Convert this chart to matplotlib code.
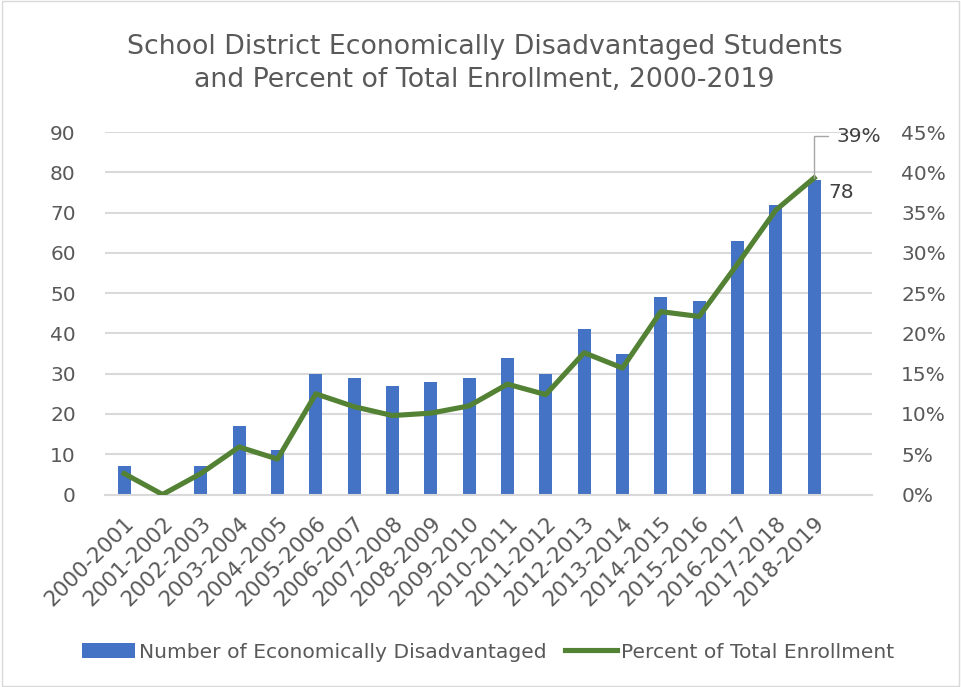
import matplotlib
matplotlib.use("Agg")
import matplotlib.pyplot as plt
from matplotlib.patches import Rectangle
from matplotlib.ticker import FuncFormatter

years = ["2000-2001", "2001-2002", "2002-2003", "2003-2004", "2004-2005",
         "2005-2006", "2006-2007", "2007-2008", "2008-2009", "2009-2010",
         "2010-2011", "2011-2012", "2012-2013", "2013-2014", "2014-2015",
         "2015-2016", "2016-2017", "2017-2018", "2018-2019"]
counts = [7, 0, 7, 17, 11, 30, 29, 27, 28, 29, 34, 30, 41, 35, 49, 48, 63, 72, 78]
percent = [2.6, 0.0, 2.6, 5.9, 4.4, 12.5, 10.9, 9.8, 10.1, 11.0, 13.7, 12.4,
           17.6, 15.7, 22.7, 22.1, 28.6, 35.3, 39.3]

plt.rcParams['font.family'] = ['DejaVu Sans']
txt = '#595959'
blue = '#4472C4'
green = '#548235'

fig = plt.figure(figsize=(9.61, 6.87), dpi=100)
ax = fig.add_axes([105/961, 1-494.5/687, (872-105)/961, (494.5-132)/687])
ax2 = ax.twinx()

x = list(range(len(years)))
ax.bar(x, counts, width=0.34, color=blue, zorder=2, label='Number of Economically Disadvantaged')
ln, = ax2.plot(x, percent, color=green, linewidth=3.7, zorder=3, label='Percent of Total Enrollment')

ax.set_ylim(0, 90)
ax.set_yticks(range(0, 91, 10))
ax2.set_ylim(0, 45)
ax2.set_yticks(range(0, 46, 5))
ax2.yaxis.set_major_formatter(FuncFormatter(lambda v, p: f"{int(v)}%"))
ax.set_xlim(-0.5, 19.51)
ax.grid(axis='y', color='#D9D9D9', linewidth=1.5, zorder=0)
ax.set_axisbelow(True)

for a in (ax, ax2):
    for s in a.spines.values():
        s.set_visible(False)
    a.tick_params(length=0, labelsize=14.5, labelcolor=txt)
ax.spines['bottom'].set_visible(True)
ax.spines['bottom'].set_color('#D9D9D9')
ax.spines['bottom'].set_linewidth(1.5)

ax.set_xticks(x)
ax.set_xticklabels(years, rotation=45, ha='right', rotation_mode='anchor', fontsize=15.5, color=txt)
ax.tick_params(axis='x', pad=13)
ax.tick_params(axis='y', pad=21)
ax2.tick_params(axis='y', pad=21)

ax2.set_zorder(ax.get_zorder() + 1)
ax2.patch.set_visible(False)

# data labels
last = len(years) - 1
ax.annotate(f"{counts[-1]}", xy=(last, counts[-1]), xytext=(10, -9), textcoords='offset points',
            fontsize=14.5, color='#404040', ha='left', va='center')
ax2.annotate(f"{round(percent[-1])}%", xy=(last, percent[-1]), xytext=(16, 30), textcoords='offset points',
             fontsize=14.5, color='#404040', ha='left', va='center',
             arrowprops=dict(arrowstyle='-', color='#A6A6A6', lw=1,
                             connectionstyle='angle,angleA=0,angleB=90,rad=0',
                             shrinkA=4, shrinkB=0))

fig.text(0.504, 1-63.5/687, "School District Economically Disadvantaged Students\nand Percent of Total Enrollment, 2000-2019",
         ha='center', va='center', fontsize=19.3, color=txt, linespacing=1.33)

h1, l1 = ax.get_legend_handles_labels()
leg = fig.legend(h1 + [ln], l1 + [ln.get_label()], loc='center', bbox_to_anchor=(0.508, 1-652/687),
                 ncol=2, frameon=False, fontsize=14.6, handlelength=2.6, handletextpad=0.2,
                 columnspacing=0.9)
for t in leg.get_texts():
    t.set_color(txt)

fig.patches.append(Rectangle((0.002, 0.002), 0.996, 0.996, transform=fig.transFigure,
                             fill=False, edgecolor='#D9D9D9', linewidth=1))

fig.savefig("out.png", dpi=100)
